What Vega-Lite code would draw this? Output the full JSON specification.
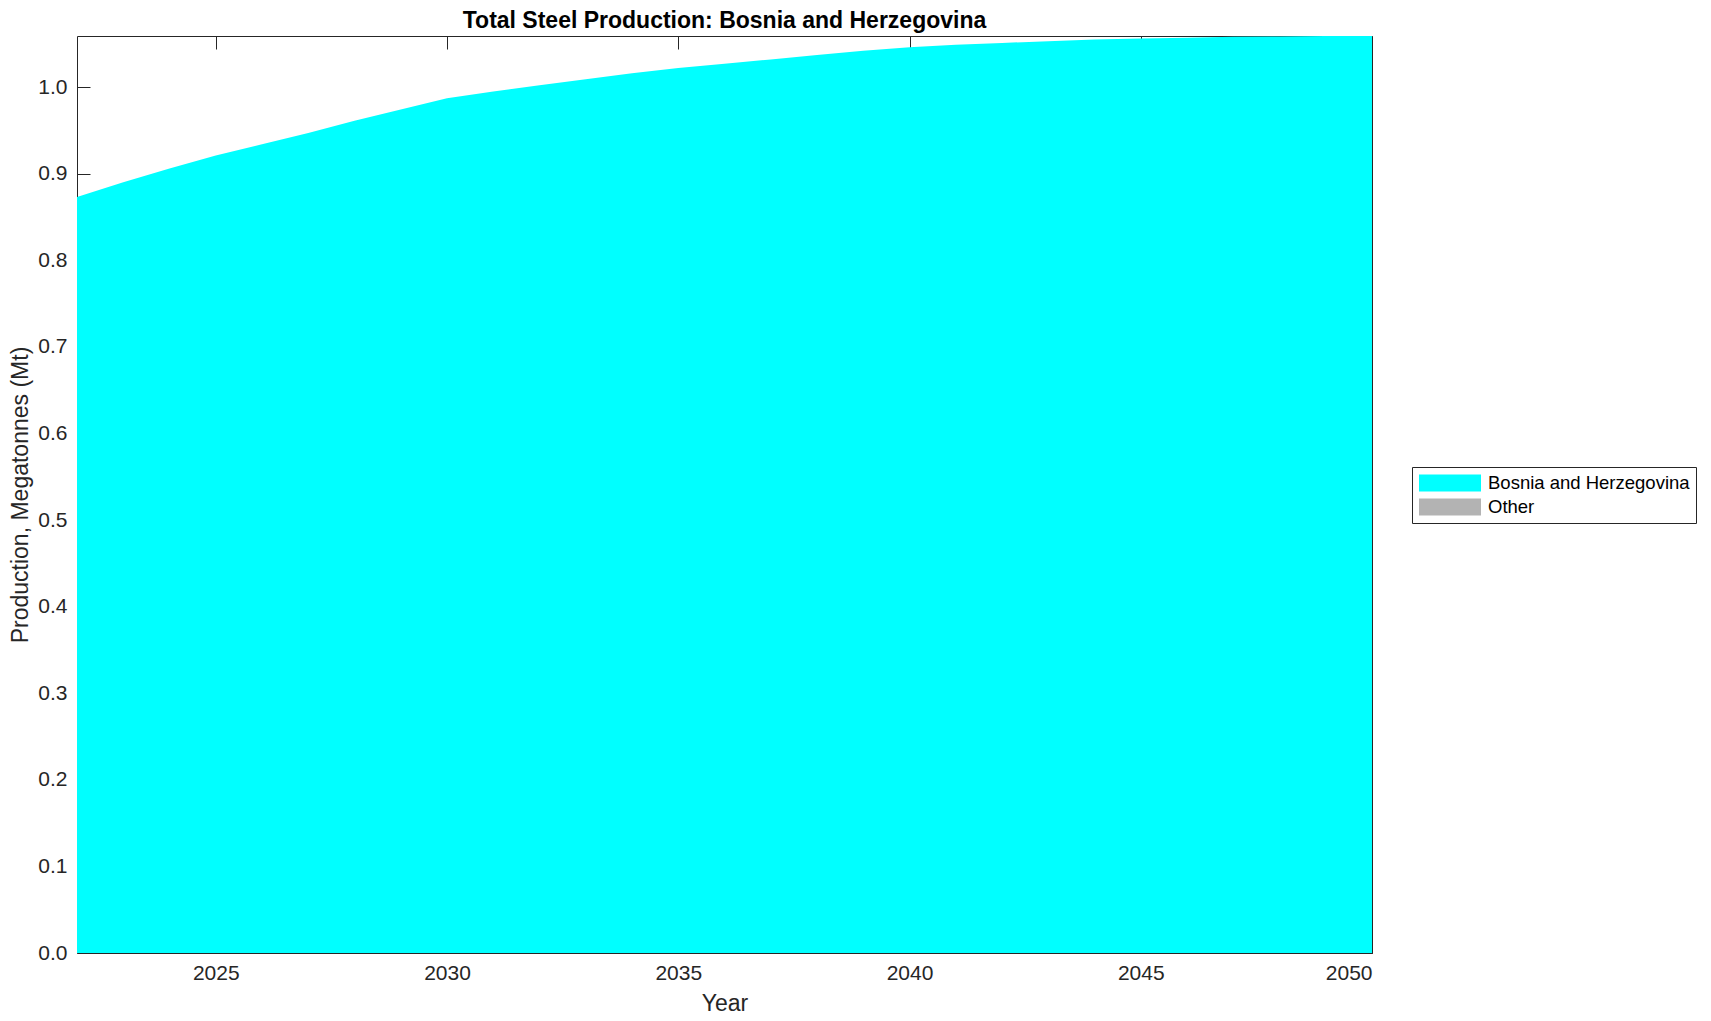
{
  "$schema": "https://vega.github.io/schema/vega-lite/v6.json",
  "autosize": "none",
  "width": 1295,
  "height": 917,
  "padding": {"left": 77, "top": 36, "right": 339, "bottom": 68},
  "background": "white",
  "config": {
    "font": "Liberation Sans",
    "view": {"stroke": "#262626", "strokeWidth": 1},
    "axis": {
      "domain": false,
      "grid": false,
      "ticks": true,
      "tickSize": -13,
      "tickColor": "#262626",
      "tickWidth": 1,
      "zindex": 1,
      "labelFont": "Liberation Sans",
      "labelFontSize": 21,
      "labelColor": "#262626",
      "titleFont": "Liberation Sans",
      "titleFontSize": 23,
      "titleFontWeight": "normal",
      "titleColor": "#262626"
    }
  },
  "title": {
    "text": "Total Steel Production: Bosnia and Herzegovina",
    "font": "Liberation Sans",
    "fontSize": 23,
    "fontWeight": "bold",
    "color": "#000000",
    "anchor": "middle",
    "offset": 0
  },
  "data": {
    "values": [
      {"year": 2022, "series": "Bosnia and Herzegovina", "value": 0.873},
      {"year": 2023, "series": "Bosnia and Herzegovina", "value": 0.890},
      {"year": 2024, "series": "Bosnia and Herzegovina", "value": 0.906},
      {"year": 2025, "series": "Bosnia and Herzegovina", "value": 0.921},
      {"year": 2026, "series": "Bosnia and Herzegovina", "value": 0.934},
      {"year": 2027, "series": "Bosnia and Herzegovina", "value": 0.947},
      {"year": 2028, "series": "Bosnia and Herzegovina", "value": 0.961},
      {"year": 2029, "series": "Bosnia and Herzegovina", "value": 0.974},
      {"year": 2030, "series": "Bosnia and Herzegovina", "value": 0.987},
      {"year": 2031, "series": "Bosnia and Herzegovina", "value": 0.995},
      {"year": 2032, "series": "Bosnia and Herzegovina", "value": 1.002},
      {"year": 2033, "series": "Bosnia and Herzegovina", "value": 1.009},
      {"year": 2034, "series": "Bosnia and Herzegovina", "value": 1.016},
      {"year": 2035, "series": "Bosnia and Herzegovina", "value": 1.022},
      {"year": 2036, "series": "Bosnia and Herzegovina", "value": 1.027},
      {"year": 2037, "series": "Bosnia and Herzegovina", "value": 1.032},
      {"year": 2038, "series": "Bosnia and Herzegovina", "value": 1.037},
      {"year": 2039, "series": "Bosnia and Herzegovina", "value": 1.042},
      {"year": 2040, "series": "Bosnia and Herzegovina", "value": 1.046},
      {"year": 2041, "series": "Bosnia and Herzegovina", "value": 1.049},
      {"year": 2042, "series": "Bosnia and Herzegovina", "value": 1.051},
      {"year": 2043, "series": "Bosnia and Herzegovina", "value": 1.053},
      {"year": 2044, "series": "Bosnia and Herzegovina", "value": 1.055},
      {"year": 2045, "series": "Bosnia and Herzegovina", "value": 1.056},
      {"year": 2046, "series": "Bosnia and Herzegovina", "value": 1.057},
      {"year": 2047, "series": "Bosnia and Herzegovina", "value": 1.058},
      {"year": 2048, "series": "Bosnia and Herzegovina", "value": 1.0585},
      {"year": 2049, "series": "Bosnia and Herzegovina", "value": 1.059},
      {"year": 2050, "series": "Bosnia and Herzegovina", "value": 1.059},
      {"year": 2022, "series": "Other", "value": 0},
      {"year": 2030, "series": "Other", "value": 0},
      {"year": 2040, "series": "Other", "value": 0},
      {"year": 2050, "series": "Other", "value": 0}
    ]
  },
  "layer": [
    {
      "mark": {"type": "area", "interpolate": "linear", "clip": true},
      "encoding": {
        "x": {
          "field": "year", "type": "quantitative",
          "scale": {"domain": [2022, 2050], "nice": false, "zero": false},
          "axis": {"orient": "bottom", "values": [2025, 2030, 2035, 2040, 2045, 2050], "format": "d", "labelPadding": 22, "title": "Year", "titlePadding": 9}
        },
        "y": {
          "field": "value", "type": "quantitative", "stack": "zero",
          "scale": {"domain": [0, 1.059], "nice": false},
          "axis": {"orient": "left", "values": [0, 0.1, 0.2, 0.3, 0.4, 0.5, 0.6, 0.7, 0.8, 0.9, 1.0], "format": ".1f", "labelPadding": 23, "title": "Production, Megatonnes (Mt)", "titlePadding": 5}
        },
        "color": {
          "field": "series", "type": "nominal",
          "scale": {"domain": ["Bosnia and Herzegovina", "Other"], "range": ["#00ffff", "#b3b3b3"]},
          "legend": {
            "title": null,
            "orient": "none",
            "legendX": 1335,
            "legendY": 431,
            "direction": "vertical",
            "fillColor": "white",
            "strokeColor": "#262626",
            "padding": 6,
            "symbolType": "M-3.1,-0.85H3.1V0.85H-3.1Z",
            "symbolSize": 400,
            "symbolOffset": 22,
            "symbolStrokeWidth": 0,
            "symbolOpacity": 1,
            "labelFont": "Liberation Sans",
            "labelFontSize": 18.5,
            "labelColor": "#000000",
            "labelOffset": 28,
            "labelLimit": 0,
            "rowPadding": 4
          }
        },
        "order": {"field": "series", "sort": "ascending"}
      }
    },
    {
      "mark": {"type": "point", "opacity": 0},
      "encoding": {
        "x": {
          "field": "year", "type": "quantitative",
          "scale": {"domain": [2022, 2050], "nice": false, "zero": false},
          "axis": {"orient": "top", "values": [2025, 2030, 2035, 2040, 2045, 2050], "labels": false, "title": null}
        },
        "y": {
          "field": "value", "type": "quantitative",
          "scale": {"domain": [0, 1.059], "nice": false},
          "axis": {"orient": "right", "values": [0, 0.1, 0.2, 0.3, 0.4, 0.5, 0.6, 0.7, 0.8, 0.9, 1.0], "labels": false, "title": null}
        }
      }
    }
  ],
  "resolve": {"axis": {"x": "independent", "y": "independent"}}
}
